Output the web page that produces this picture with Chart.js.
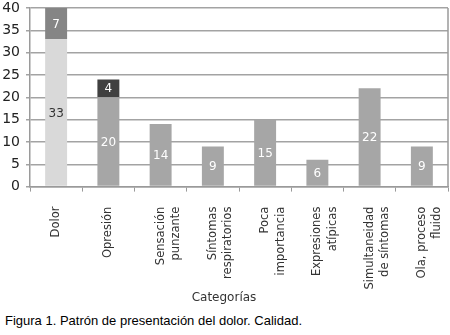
<!DOCTYPE html>
<html>
<head>
<meta charset="utf-8">
<script src="https://cdn.jsdelivr.net/npm/chart.js@4"></script>
<style>
  html, body { margin: 0; padding: 0; background: #fff; }
  #wrap { position: relative; width: 450px; height: 335px; }
  #c { position: absolute; left: 0; top: 0; }
  #cap { position: absolute; left: 5px; top: 313px; font-family: "Liberation Sans", Arial, sans-serif; font-size: 13px; color: #000; white-space: nowrap; }
</style>
</head>
<body>
<div id="wrap">
  <canvas id="c" width="450" height="311"></canvas>
  <div id="cap">Figura 1. Patrón de presentación del dolor. Calidad.</div>
</div>
<script>
const categories = [
  ["Dolor"],
  ["Opresión"],
  ["Sensación", "punzante"],
  ["Síntomas", "respiratorios"],
  ["Poca", "importancia"],
  ["Expresiones", "atípicas"],
  ["Simultaneidad", "de síntomas"],
  ["Ola, proceso", "fluido"]
];
const baseValues = [33, 20, 14, 9, 15, 6, 22, 9];
const topValues = [7, 4, 0, 0, 0, 0, 0, 0];
const yTicks = [0, 5, 10, 15, 20, 25, 30, 35, 40];
const axisTitle = "Categorías";

const baseColors = ["#d9d9d9", "#a6a6a6", "#a6a6a6", "#a6a6a6", "#a6a6a6", "#a6a6a6", "#a6a6a6", "#a6a6a6"];
const topColors = ["#858585", "#404040", "#858585", "#858585", "#858585", "#858585", "#858585", "#858585"];
const baseLabelColors = ["#333333", "#ffffff", "#ffffff", "#ffffff", "#ffffff", "#ffffff", "#ffffff", "#ffffff"];

const FONT = "'DejaVu Sans', sans-serif";

const labelPlugin = {
  id: 'barLabels',
  afterDatasetsDraw(chart) {
    const ctx = chart.ctx;
    ctx.save();
    ctx.font = "12px " + FONT;
    ctx.textAlign = 'center';
    ctx.textBaseline = 'middle';
    chart.data.datasets.forEach((ds, di) => {
      const meta = chart.getDatasetMeta(di);
      meta.data.forEach((el, i) => {
        const v = ds.data[i];
        if (!v) return;
        ctx.fillStyle = di === 0 ? baseLabelColors[i] : '#ffffff';
        ctx.fillText(String(v), el.x, (el.y + el.base) / 2 + 1);
      });
    });
    ctx.restore();
  }
};

const borderPlugin = {
  id: 'rightBorder',
  afterDraw(chart) {
    const a = chart.chartArea, ctx = chart.ctx;
    ctx.save();
    ctx.strokeStyle = '#9a9a9a';
    ctx.lineWidth = 1.5;
    ctx.beginPath();
    ctx.moveTo(a.right, a.top);
    ctx.lineTo(a.right, a.bottom);
    ctx.stroke();
    ctx.restore();
  }
};

new Chart(document.getElementById('c'), {
  type: 'bar',
  data: {
    labels: categories,
    datasets: [
      { data: baseValues, backgroundColor: baseColors, barPercentage: 0.42, categoryPercentage: 1 },
      { data: topValues, backgroundColor: topColors, barPercentage: 0.42, categoryPercentage: 1 }
    ]
  },
  options: {
    responsive: false,
    animation: false,
    layout: { padding: { top: 0, right: 2, left: 0, bottom: 0 } },
    plugins: {
      legend: { display: false },
      tooltip: { enabled: false },
      title: {
        display: true,
        text: axisTitle,
        position: 'bottom',
        color: '#333',
        font: { family: FONT, size: 12, weight: 'normal' },
        padding: { top: 1, bottom: 6 }
      }
    },
    scales: {
      x: {
        stacked: true,
        grid: { display: true, drawOnChartArea: false, offset: true, tickLength: 5, color: '#9a9a9a', lineWidth: 1 },
        border: { display: true, color: '#9a9a9a', width: 1.5 },
        ticks: {
          color: '#333',
          font: { family: FONT, size: 11.5, lineHeight: 1.35 },
          maxRotation: 90, minRotation: 90, autoSkip: false, padding: 15
        },
        afterFit(scale) { scale.height = 103; scale.paddingLeft = 0; scale.paddingRight = 0; }
      },
      y: {
        stacked: true,
        min: 0, max: 40,
        afterBuildTicks(scale) { scale.ticks = yTicks.map(v => ({ value: v })); },
        grid: { color: '#a3a3a3', lineWidth: 1.5, tickLength: 4 },
        border: { display: true, color: '#9a9a9a', width: 1.5 },
        ticks: { color: '#222', font: { family: FONT, size: 14 }, padding: 6 },
        afterFit(scale) { scale.width = 30; scale.paddingTop = 8; scale.paddingBottom = 0; }
      }
    }
  },
  plugins: [labelPlugin, borderPlugin]
});
</script>
</body>
</html>
